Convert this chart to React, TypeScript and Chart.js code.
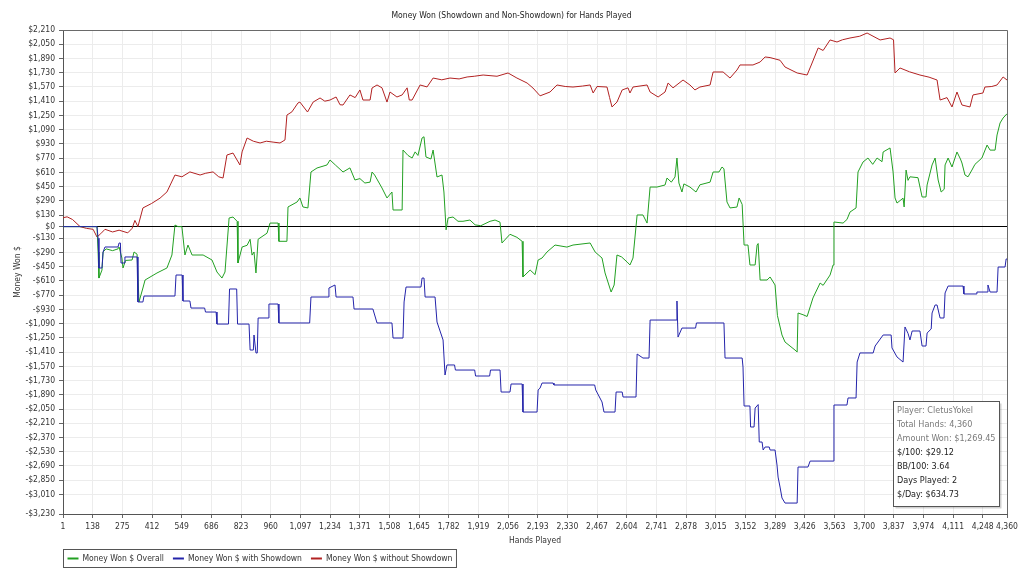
import { useEffect, useRef } from "react";
import { Chart, registerables } from "chart.js";

Chart.register(...registerables);

const CHART_TITLE = "Money Won (Showdown and Non-Showdown) for Hands Played";
const X_TITLE = "Hands Played";
const Y_TITLE = "Money Won $";

const xTicks = [
  1, 138, 275, 412, 549, 686, 823, 960, 1097, 1234, 1371, 1508, 1645, 1782, 1919, 2056, 2193,
  2330, 2467, 2604, 2741, 2878, 3015, 3152, 3289, 3426, 3563, 3700, 3837, 3974, 4111, 4248, 4360,
];
const yTicks = [
  2210, 2050, 1890, 1730, 1570, 1410, 1250, 1090, 930, 770, 610, 450, 290, 130, 0, -130, -290,
  -450, -610, -770, -930, -1090, -1250, -1410, -1570, -1730, -1890, -2050, -2210, -2370, -2530,
  -2690, -2850, -3010, -3230,
];

const seriesLabels = ["Money Won $ Overall", "Money Won $ with Showdown", "Money Won $ without Showdown"];
const seriesColors = ["#22a022", "#2424aa", "#b22222"];

const infoLines = [
  "Player: CletusYokel",
  "Total Hands: 4,360",
  "Amount Won: $1,269.45",
  "$/100: $29.12",
  "BB/100: 3.64",
  "Days Played: 2",
  "$/Day: $634.73",
];

// Money Won $ Overall
const overallHands = [
  1, 158, 163, 167, 181, 186, 200, 230, 255, 260,
  273, 278, 290, 320, 329, 343, 352, 370, 380, 435,
  481, 504, 518, 532, 550, 564, 578, 597, 648, 689,
  712, 735, 749, 768, 786, 805, 809, 828, 851, 865,
  874, 883, 892, 902, 943, 957, 994, 998, 1035, 1040,
  1082, 1095, 1109, 1132, 1146, 1174, 1220, 1234, 1260, 1294,
  1326, 1349, 1372, 1395, 1419, 1428, 1440, 1474, 1497, 1520,
  1525, 1567, 1571, 1594, 1613, 1627, 1640, 1659, 1668, 1677,
  1700, 1710, 1728, 1751, 1760, 1770, 1779, 1802, 1825, 1848,
  1880, 1904, 1930, 1973, 1996, 2019, 2028, 2065, 2097, 2121,
  2125, 2158, 2181, 2195, 2213, 2236, 2273, 2328, 2356, 2435,
  2458, 2490, 2504, 2532, 2546, 2559, 2580, 2606, 2619, 2633,
  2652, 2679, 2698, 2712, 2744, 2781, 2790, 2810, 2827, 2836,
  2845, 2859, 2868, 2896, 2924, 2942, 2989, 3003, 3030, 3044,
  3053, 3067, 3081, 3113, 3123, 3137, 3146, 3164, 3173, 3197,
  3206, 3211, 3220, 3252, 3266, 3289, 3300, 3321, 3335, 3381,
  3391, 3395, 3418, 3437, 3451, 3464, 3497, 3511, 3543, 3557,
  3561, 3603, 3621, 3635, 3663, 3672, 3695, 3718, 3740, 3760,
  3783, 3788, 3820, 3834, 3843, 3852, 3870, 3880, 3885, 3894,
  3903, 3912, 3949, 3968, 3986, 3991, 4014, 4028, 4042, 4056,
  4070, 4074, 4088, 4106, 4129, 4145, 4152, 4166, 4180, 4198,
  4212, 4244, 4268, 4282, 4305, 4314, 4328, 4342, 4360,
];
const overallValues = [
  0, 0, -285, -578, -488, -285, -250, -270, -250, -229,
  -353, -465, -380, -375, -285, -310, -847, -690, -600, -521,
  -465, -319, 18, 0, 0, -319, -207, -319, -319, -375,
  -510, -578, -510, 97, 108, 60, -409, -229, -210, -142,
  -320, -285, -521, -142, -74, 40, 40, -165, -165, 221,
  277, 322, 221, 210, 614, 659, 693, 749, 690, 614,
  660, 524, 540, 490, 500, 614, 580, 434, 322, 389,
  187, 187, 861, 800, 771, 840, 800, 996, 1010, 783,
  760, 861, 558, 580, 389, -36, 97, 108, 60, 60,
  74, 20, 10, 60, 74, 50, -184, -86, -120, -165,
  -566, -488, -540, -375, -353, -285, -207, -230, -207, -184,
  -285, -353, -521, -735, -656, -319, -340, -398, -431, -353,
  131, 131, 40, 445, 445, 468, 546, 500, 558, 771,
  490, 389, 480, 445, 389, 470, 500, 614, 614, 670,
  650, 277, 210, 220, 322, 250, -207, -207, -431, -431,
  -207, -190, -600, -600, -566, -656, -1000, -1218, -1297, -1387,
  -1409, -971, -990, -1010, -903, -802, -634, -660, -544, -431,
  52, 40, 80, 164, 210, 614, 726, 771, 700, 771,
  730, 839, 884, 614, 322, 265, 300, 320, 221, 636,
  520, 560, 550, 333, 333, 468, 693, 771, 524, 389,
  420, 693, 771, 670, 839, 760, 715, 580, 560, 636,
  700, 771, 917, 860, 860, 1030, 1165, 1221, 1269,
];

// Money Won $ with Showdown
const showdownHands = [
  1, 158, 163, 167, 181, 186, 195, 255, 260, 266,
  269, 283, 287, 343, 347, 370, 375, 518, 523, 551,
  555, 587, 592, 655, 659, 708, 712, 765, 770, 803,
  807, 860, 865, 880, 883, 892, 898, 902, 948, 952,
  994, 998, 1140, 1146, 1225, 1229, 1257, 1262, 1340, 1345,
  1432, 1451, 1520, 1525, 1571, 1576, 1585, 1654, 1659, 1668,
  1673, 1719, 1728, 1756, 1765, 1774, 1809, 1813, 1902, 1906,
  1971, 1975, 2019, 2024, 2065, 2070, 2121, 2125, 2190, 2195,
  2204, 2213, 2264, 2268, 2456, 2461, 2490, 2499, 2550, 2555,
  2583, 2587, 2647, 2652, 2679, 2707, 2712, 2832, 2836, 2841,
  2859, 2922, 2926, 3053, 3058, 3137, 3141, 3146, 3173, 3176,
  3192, 3197, 3211, 3216, 3229, 3234, 3243, 3262, 3266, 3289,
  3298, 3303, 3312, 3321, 3335, 3391, 3395, 3441, 3451, 3557,
  3561, 3621, 3626, 3663, 3668, 3681, 3742, 3751, 3788, 3825,
  3829, 3852, 3880, 3889, 3903, 3912, 3922, 3958, 3968, 3986,
  3991, 4010, 4014, 4028, 4037, 4051, 4069, 4074, 4088, 4157,
  4161, 4217, 4221, 4268, 4272, 4282, 4314, 4319, 4351, 4356,
  4360,
];
const showdownValues = [
  0, 0, -130, -465, -465, -285, -229, -229, -184, -184,
  -409, -409, -341, -341, -847, -847, -780, -780, -544, -544,
  -836, -836, -915, -915, -960, -960, -1095, -1095, -701, -701,
  -1095, -1095, -1387, -1387, -1218, -1420, -1420, -1027, -1027, -870,
  -870, -1083, -1083, -791, -791, -690, -656, -791, -791, -926,
  -926, -1083, -1083, -1252, -1252, -847, -679, -679, -578, -578,
  -791, -791, -1072, -1274, -1668, -1555, -1555, -1612, -1612, -1679,
  -1679, -1612, -1612, -1859, -1859, -1769, -1769, -2084, -2084, -1836,
  -1814, -1758, -1758, -1780, -1780, -1836, -1971, -2084, -2084, -1859,
  -1859, -1915, -1915, -1432, -1477, -1477, -1050, -1050, -836, -1241,
  -1140, -1140, -1083, -1083, -1477, -1477, -1578, -2016, -2016, -2252,
  -2252, -2039, -2000, -2421, -2421, -2511, -2477, -2477, -2511, -2511,
  -2680, -2815, -2927, -3050, -3107, -3107, -2702, -2702, -2635, -2635,
  -2005, -2005, -1926, -1926, -1522, -1420, -1420, -1342, -1218, -1218,
  -1364, -1465, -1522, -1128, -1200, -1274, -1173, -1173, -1342, -1342,
  -1196, -1150, -971, -881, -881, -1027, -1027, -746, -668, -668,
  -757, -757, -735, -735, -656, -735, -735, -454, -454, -364,
  -364,
];

// Money Won $ without Showdown
const nonShowdownHands = [
  1, 20, 45, 80, 110, 140, 158, 175, 195, 230,
  260, 300, 320, 333, 347, 370, 410, 449, 481, 518,
  550, 587, 634, 660, 694, 720, 740, 758, 786, 818,
  828, 851, 880, 911, 940, 971, 1003, 1026, 1035, 1058,
  1086, 1095, 1130, 1156, 1188, 1210, 1234, 1262, 1280, 1294,
  1326, 1350, 1372, 1386, 1419, 1428, 1451, 1474, 1497, 1511,
  1543, 1567, 1590, 1600, 1613, 1650, 1682, 1710, 1750, 1788,
  1830, 1867, 1900, 1941, 2005, 2056, 2097, 2144, 2171, 2204,
  2250, 2282, 2320, 2356, 2400, 2435, 2449, 2467, 2513, 2525,
  2536, 2559, 2583, 2610, 2619, 2633, 2698, 2712, 2749, 2781,
  2795, 2818, 2864, 2896, 2919, 2942, 2989, 3003, 3049, 3081,
  3113, 3127, 3187, 3220, 3243, 3266, 3312, 3335, 3391, 3437,
  3460, 3488, 3511, 3543, 3575, 3600, 3635, 3680, 3714, 3774,
  3820, 3836, 3843, 3866, 3910, 3958, 4000, 4037, 4051, 4083,
  4106, 4129, 4152, 4189, 4203, 4249, 4258, 4290, 4314, 4342,
  4360,
];
const nonShowdownValues = [
  100, 110, 80, 0, -20, -30, -117, -80, -30, -60,
  -40, -70, -20, 70, 0, 210, 260, 320, 390, 580,
  560, 615, 580, 600, 615, 560, 546, 805, 827, 693,
  840, 996, 960, 940, 960, 950, 940, 974, 1254, 1290,
  1390, 1400, 1288, 1400, 1446, 1410, 1423, 1457, 1370, 1367,
  1480, 1450, 1536, 1423, 1423, 1558, 1592, 1560, 1400, 1513,
  1457, 1480, 1560, 1423, 1423, 1592, 1570, 1670, 1650, 1670,
  1660, 1682, 1690, 1704, 1690, 1727, 1670, 1614, 1558, 1470,
  1513, 1592, 1575, 1569, 1580, 1592, 1502, 1575, 1569, 1450,
  1345, 1400, 1536, 1560, 1502, 1569, 1592, 1513, 1457, 1513,
  1614, 1560, 1648, 1592, 1536, 1569, 1592, 1738, 1738, 1670,
  1760, 1817, 1817, 1850, 1907, 1900, 1870, 1794, 1727, 1704,
  1839, 2008, 1980, 2098, 2075, 2100, 2120, 2140, 2176, 2098,
  2120, 2100, 1727, 1783, 1740, 1704, 1680, 1648, 1423, 1450,
  1345, 1513, 1367, 1345, 1480, 1502, 1569, 1575, 1592, 1682,
  1648,
];

const FAMILY = "'DejaVu Sans Condensed', 'DejaVu Sans', sans-serif";
const FONT_SIZE = 8.5;

function toPoints(hands: number[], values: number[]) {
  const n = Math.min(hands.length, values.length);
  const out: { x: number; y: number }[] = [];
  for (let i = 0; i < n; i++) out.push({ x: hands[i], y: values[i] });
  return out;
}

function fmtMoney(v: number) {
  const a = Math.abs(v).toLocaleString("en-US");
  return v < 0 ? "-$" + a : "$" + a;
}

const decorPlugin = {
  id: "decor",
  afterDraw(chart: any) {
    const { ctx, chartArea: a } = chart;
    ctx.save();
    // plot frame (top and right)
    ctx.strokeStyle = "#6a6a6a";
    ctx.lineWidth = 1;
    ctx.beginPath();
    ctx.moveTo(a.left, Math.round(a.top) + 0.5);
    ctx.lineTo(Math.round(a.right) + 0.5, Math.round(a.top) + 0.5);
    ctx.lineTo(Math.round(a.right) + 0.5, a.bottom);
    ctx.stroke();

    // title
    ctx.font = `${FONT_SIZE}px ${FAMILY}`;
    ctx.fillStyle = "#222";
    ctx.textAlign = "center";
    ctx.textBaseline = "middle";
    ctx.fillText(CHART_TITLE, chart.width / 2, 16);

    // legend box
    ctx.font = `${FONT_SIZE}px ${FAMILY}`;
    ctx.textAlign = "left";
    const lx = Math.round(a.left) + 0.5;
    const ly = Math.round(a.bottom) + 35.5;
    const lh = 18;
    let cx = lx + 4;
    const cy = ly + lh / 2;
    const items: { x: number; w: number }[] = [];
    seriesLabels.forEach((lab, i) => {
      const tw = ctx.measureText(lab).width;
      items.push({ x: cx, w: tw });
      cx += 11 + 4 + tw + 9;
    });
    const boxW = cx - 9 + 4 - lx;
    ctx.fillStyle = "#ffffff";
    ctx.fillRect(lx, ly, boxW, lh);
    ctx.strokeStyle = "#555";
    ctx.strokeRect(lx, ly, boxW, lh);
    seriesLabels.forEach((lab, i) => {
      const it = items[i];
      ctx.strokeStyle = seriesColors[i];
      ctx.lineWidth = 2;
      ctx.beginPath();
      ctx.moveTo(it.x, cy);
      ctx.lineTo(it.x + 11, cy);
      ctx.stroke();
      ctx.fillStyle = "#333";
      ctx.fillText(lab, it.x + 15, cy);
    });
    ctx.lineWidth = 1;

    // info box
    ctx.font = `9px ${FAMILY}`;
    let maxW = 0;
    infoLines.forEach((t) => (maxW = Math.max(maxW, ctx.measureText(t).width)));
    const bw = Math.round(maxW + 8);
    const bh = 105;
    const bx = Math.round(a.right) - 8 - bw + 0.5;
    const by = Math.round(a.bottom) - 8 - bh + 0.5;
    ctx.fillStyle = "rgba(0,0,0,0.18)";
    ctx.fillRect(bx + 2, by + 2, bw, bh);
    ctx.fillStyle = "#ffffff";
    ctx.fillRect(bx, by, bw, bh);
    ctx.strokeStyle = "#555";
    ctx.strokeRect(bx, by, bw, bh);
    infoLines.forEach((t, i) => {
      ctx.fillStyle = i < 3 ? "#7a7a7a" : "#222";
      ctx.fillText(t, bx + 3.5, by + 9.5 + i * 14);
    });
    ctx.restore();
  },
};

export default function App() {
  const ref = useRef<HTMLCanvasElement | null>(null);
  useEffect(() => {
    if (!ref.current) return;
    const font = { family: FAMILY, size: FONT_SIZE };
    const chart = new Chart(ref.current, {
      type: "line",
      data: {
        datasets: [
          {
            label: seriesLabels[0],
            data: toPoints(overallHands, overallValues),
            borderColor: seriesColors[0],
            borderWidth: 1,
            pointRadius: 0,
            tension: 0,
            order: 1,
          },
          {
            label: seriesLabels[1],
            data: toPoints(showdownHands, showdownValues),
            borderColor: seriesColors[1],
            borderWidth: 1,
            pointRadius: 0,
            tension: 0,
            order: 0,
          },
          {
            label: seriesLabels[2],
            data: toPoints(nonShowdownHands, nonShowdownValues),
            borderColor: seriesColors[2],
            borderWidth: 1,
            pointRadius: 0,
            tension: 0,
            order: 2,
          },
        ],
      },
      options: {
        animation: false,
        responsive: true,
        maintainAspectRatio: false,
        layout: { padding: { left: 0, right: 16, top: 30, bottom: 32 } },
        plugins: {
          legend: { display: false },
          title: { display: false },
          tooltip: { enabled: false },
        },
        scales: {
          x: {
            type: "linear",
            min: 1,
            max: 4360,
            afterBuildTicks: (s: any) => {
              s.ticks = xTicks.map((v) => ({ value: v }));
            },
            afterFit: (s: any) => {
              s.height = 34;
            },
            ticks: {
              autoSkip: false,
              maxRotation: 0,
              minRotation: 0,
              padding: 4,
              color: "#333",
              font,
              callback: (v: any) => Number(v).toLocaleString("en-US"),
            },
            grid: { color: "#ececec", tickLength: 4, tickColor: "#666" },
            border: { color: "#555" },
            title: { display: true, text: X_TITLE, color: "#333", font, padding: { top: 0, bottom: 2 } },
          },
          y: {
            type: "linear",
            min: -3230,
            max: 2210,
            afterBuildTicks: (s: any) => {
              s.ticks = yTicks.map((v) => ({ value: v }));
            },
            afterFit: (s: any) => {
              s.width = 63;
            },
            ticks: {
              autoSkip: false,
              padding: 4,
              color: "#333",
              font,
              callback: (v: any) => fmtMoney(Number(v)),
            },
            grid: {
              color: (c: any) => (c.tick && c.tick.value === 0 ? "#000000" : "#ececec"),
              tickLength: 4,
              tickColor: "#666",
            },
            border: { color: "#555" },
            title: { display: true, text: Y_TITLE, color: "#333", font, padding: { top: 13, bottom: 0 } },
          },
        },
      },
      plugins: [decorPlugin],
    } as any);
    return () => chart.destroy();
  }, []);
  return (
    <div style={{ position: "fixed", left: 0, top: 0, width: 1023, height: 580, background: "#fff" }}>
      <canvas ref={ref} />
    </div>
  );
}
